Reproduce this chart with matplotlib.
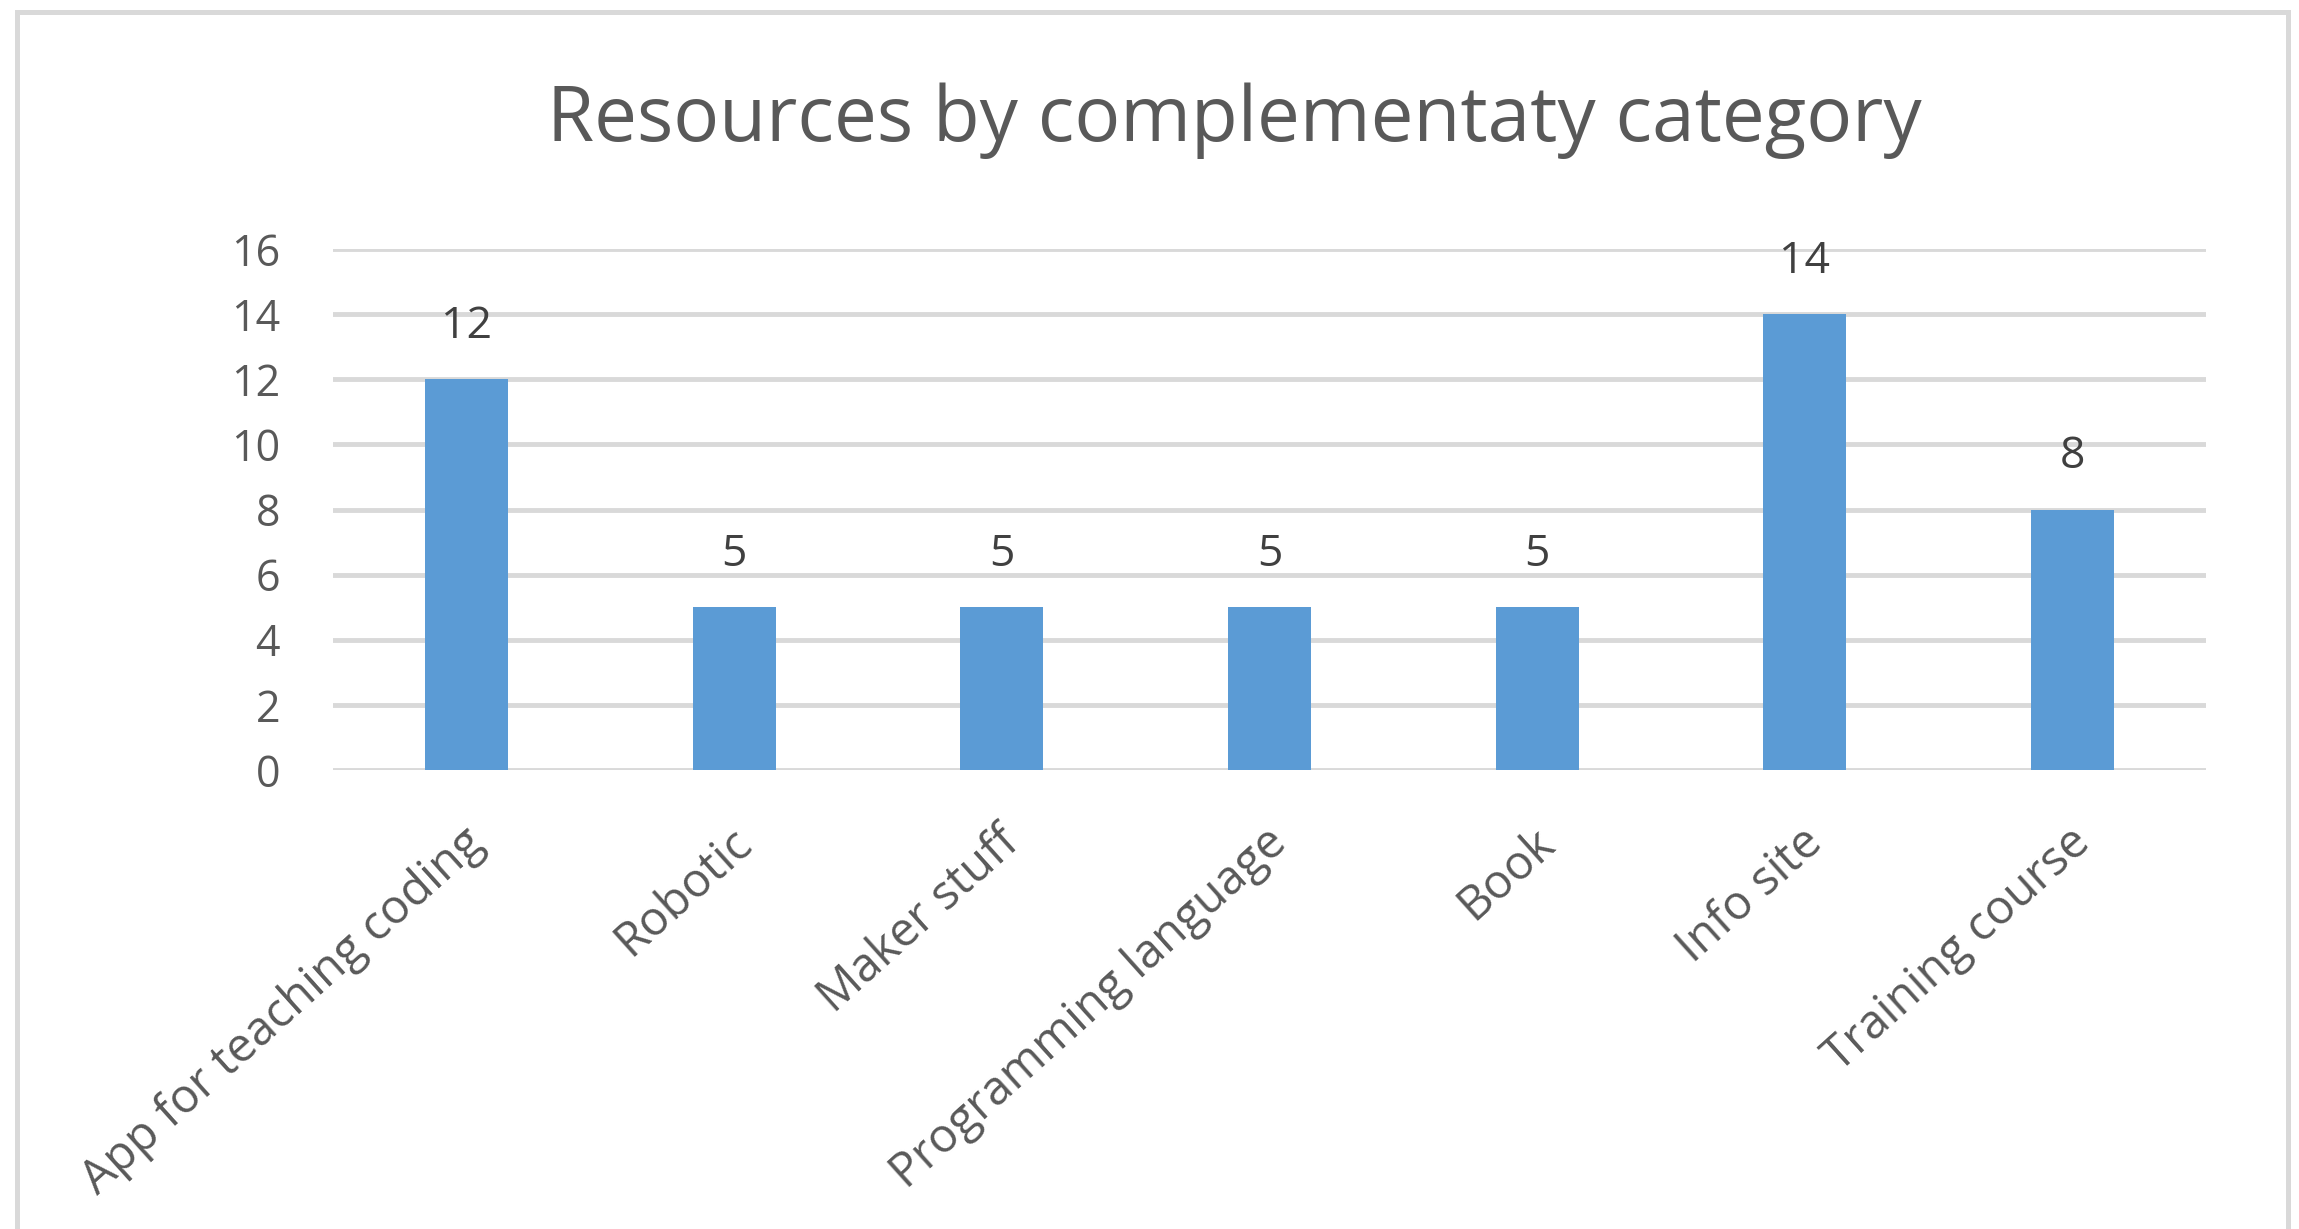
import matplotlib
matplotlib.use("Agg")
import matplotlib.pyplot as plt
from matplotlib.patches import Rectangle
from matplotlib.transforms import ScaledTranslation

categories = ["App for teaching coding", "Robotic", "Maker stuff",
              "Programming language", "Book", "Info site", "Training course"]
values = [12, 5, 5, 5, 5, 14, 8]
y_ticks = [0, 2, 4, 6, 8, 10, 12, 14, 16]
title = "Resources by complementaty category"

W, H = 2299, 1229
DPI = 100
plt.rcParams['font.family'] = ['Open Sans', 'DejaVu Sans']

fig = plt.figure(figsize=(W / DPI, H / DPI), dpi=DPI)
fig.patch.set_facecolor("white")

# outer chart border
border = Rectangle((17 / W, -0.05), (2288 - 17) / W, 1.05 - 12 / H,
                   transform=fig.transFigure, fill=False,
                   edgecolor="#d9d9d9", linewidth=3.6)
fig.add_artist(border)

ax = fig.add_axes([333 / W, 1 - 770 / H, (2206 - 333) / W, (770 - 249) / H])
x = list(range(len(categories)))
bars = ax.bar(x, values, width=0.31, color="#5b9bd5", zorder=2)
ax.set_xlim(-0.5, len(categories) - 0.5)
ax.set_ylim(0, 16)
ax.set_yticks(y_ticks)
ax.set_yticklabels([str(t) for t in y_ticks])
ax.set_axisbelow(True)
ax.yaxis.grid(True, color="#d9d9d9", linewidth=3.5)
ax.xaxis.grid(False)
for s in ax.spines.values():
    s.set_visible(False)
ax.tick_params(axis="both", length=0)
ax.tick_params(axis="y", labelsize=31, labelcolor="#595959", pad=38)
ax.set_xticks(x)
ax.set_xticklabels(categories, rotation=42, ha="right", fontsize=34,
                   color="#595959")
ax.tick_params(axis="x", pad=35)
for lab in ax.get_xticklabels():
    lab.set_transform(lab.get_transform() + ScaledTranslation(0.27, 0, fig.dpi_scale_trans))

ax.bar_label(bars, labels=[str(v) for v in values], padding=22,
             fontsize=32, color="#404040")

fig.text(1234 / W, 1 - 141 / H, title, ha="center", va="baseline",
         fontsize=55, color="#595959")

fig.savefig("out.png", dpi=DPI, facecolor="white")
